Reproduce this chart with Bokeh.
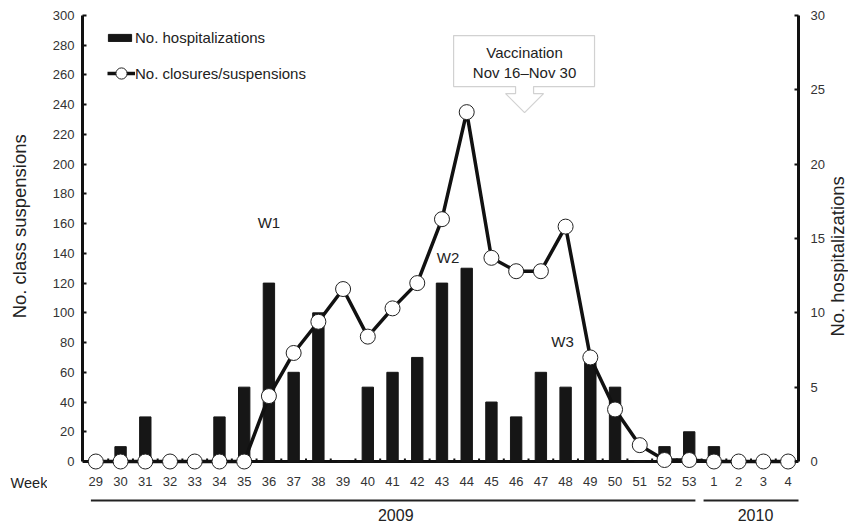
import numpy as np
from bokeh.plotting import figure
from bokeh.layouts import row
from bokeh.models import (Range1d, LinearAxis, FixedTicker, Label, Legend, LegendItem,
                          PolyAnnotation, Span)
from bokeh.embed import file_html
from bokeh.resources import INLINE

# ---------------- data ----------------
weeks = ["29", "30", "31", "32", "33", "34", "35", "36", "37", "38", "39", "40", "41",
         "42", "43", "44", "45", "46", "47", "48", "49", "50", "51", "52", "53",
         "1", "2", "3", "4"]
hospitalizations = [0, 1, 3, 0, 0, 3, 5, 12, 6, 10, 0, 5, 6, 7, 12, 13, 4, 3, 6, 5, 7, 5,
                    0, 1, 2, 1, 0, 0, 0]
closures = [0, 0, 0, 0, 0, 0, 0, 44, 73, 94, 116, 84, 103, 120, 163, 235, 137, 128, 128,
            158, 70, 35, 11, 1, 1, 0, 0, 0, 0]
left_ticks = list(range(0, 301, 20))
right_ticks = list(range(0, 31, 5))
years = ["2009", "2010"]
year_first_week = ["29", "1"]
year_last_week = ["53", "4"]
wave_labels = ["W1", "W2", "W3"]
wave_weeks = ["36", "43", "48"]
wave_heights = [161, 137, 81]

FONT = "Liberation Sans"
TXT = "#222222"
x = np.arange(len(weeks))

# vertical scale: 0..300 over 446 px, frame extended down to the page bottom
PX = 446 / 300.0
Y_MIN = -62 / PX

LEFT_W, RIGHT_W = 47, 20
common = dict(output_backend="svg", toolbar_location=None)

# ---------------- main figure ----------------
p = figure(width=848 - LEFT_W - RIGHT_W, height=523, x_range=Range1d(-0.54, 28.42),
           y_range=Range1d(Y_MIN, 300), x_axis_location=None,
           min_border_left=82 - LEFT_W, min_border_right=30, min_border_top=15,
           min_border_bottom=0, **common)
p.outline_line_color = None
p.grid.visible = False
p.extra_y_ranges = {"hosp": Range1d(Y_MIN / 10.0, 30)}

ly = p.yaxis[0]
ly.ticker = FixedTicker(ticks=left_ticks, minor_ticks=[])
ly.bounds = (0, 300)
ry = LinearAxis(y_range_name="hosp", ticker=FixedTicker(ticks=right_ticks, minor_ticks=[]),
                bounds=(0, 30))
p.add_layout(ry, "right")
for ax, so in ((ly, 8), (ry, 12)):
    ax.axis_line_width = 3
    ax.axis_line_color = "#111111"
    ax.major_tick_in = 4
    ax.major_tick_out = 0
    ax.major_tick_line_width = 2
    ax.major_tick_line_color = "#111111"
    ax.minor_tick_line_color = None
    ax.major_label_standoff = so
    ax.major_label_text_font = FONT
    ax.major_label_text_font_size = "13px"
    ax.major_label_text_color = "#333333"

# baseline (x axis line) and small category separators
p.add_layout(Span(location=0, dimension="width", line_width=3, line_color="#111111",
                  level="underlay"))
sep = x[:-1] + 0.5
p.segment(x0=sep, y0=0, x1=sep, y1=3 / PX, line_width=2, line_color="#111111")

# week labels
p.text(x=x, y=-20 / PX, text=weeks, text_align="center", text_baseline="middle",
       text_font={"value": FONT}, text_font_size="13px", text_color="#333333")

# ---------------- marks ----------------
bars = p.vbar(x=x, top=hospitalizations, width=0.46, y_range_name="hosp",
              fill_color="#161616", line_color="#161616")
line = p.line(x, closures, line_width=3.5, line_color="#111111")
dots = p.scatter(x, closures, size=15, fill_color="white", line_color="#222222",
                 line_width=1)

# ---------------- legends ----------------
leg1 = Legend(items=[LegendItem(label="No. hospitalizations", renderers=[bars])],
              location=(23, 477), glyph_width=29, glyph_height=9, label_standoff=1,
              padding=0, margin=0, border_line_color=None, background_fill_alpha=0,
              label_text_font=FONT, label_text_font_size="15px",
              label_text_color=TXT, label_height=9)
leg2 = Legend(items=[LegendItem(label="No. closures/suspensions", renderers=[line, dots])],
              location=(25, 436), glyph_width=28, glyph_height=28, label_standoff=0,
              padding=0, margin=0, border_line_color=None, background_fill_alpha=0,
              label_text_font=FONT, label_text_font_size="15px",
              label_text_color=TXT, label_height=9)
p.add_layout(leg1)
p.add_layout(leg2)

# ---------------- annotations ----------------
wave_dx = [0, 6, -3]
for lab, wk, h, dx in zip(wave_labels, wave_weeks, wave_heights, wave_dx):
    p.add_layout(Label(x=float(weeks.index(wk)), y=h, x_offset=dx, text=lab,
                       text_align="center", text_baseline="middle",
                       text_font=FONT, text_font_size="15px", text_color=TXT))

# callout box with arrow
cx = 17.34
bx0, bx1, by0, by1 = 14.47, 20.17, 252.2, 286.5
stem, head, hy, tip = 0.364, 0.768, 247.5, 234.7
p.add_layout(PolyAnnotation(
    xs=[bx0, bx0, bx1, bx1, cx + stem, cx + stem, cx + head, cx, cx - head, cx - stem, cx - stem],
    ys=[by0, by1, by1, by0, by0, hy, hy, tip, hy, hy, by0],
    fill_color="white", fill_alpha=1.0, line_color="#666666", line_width=1.2))
p.add_layout(Label(x=cx, y=275.1, text="Vaccination", text_align="center",
                   text_baseline="middle", text_font=FONT, text_font_size="15px",
                   text_color=TXT))
p.add_layout(Label(x=cx, y=261.6, text="Nov 16\u2013Nov 30", text_align="center",
                   text_baseline="middle", text_font=FONT, text_font_size="15px",
                   text_color=TXT))

# year brackets below the week labels
yr_x0 = [weeks.index(w) - 0.2 for w in year_first_week]
yr_x0[1] = weeks.index(year_first_week[1]) - 0.42
yr_x1 = [weeks.index(w) + 0.25 for w in year_last_week]
yr_x1[1] = weeks.index(year_last_week[1]) + 0.6
yr_y = [-39 / PX] * len(years)
p.segment(x0=yr_x0, y0=yr_y, x1=yr_x1, y1=yr_y, line_width=2, line_color="#222222")
yr_tx = [12.13, 26.68]
p.text(x=yr_tx, y=[-53 / PX] * len(years), text=years, text_align="center",
       text_baseline="middle", text_font={"value": FONT}, text_font_size="16px",
       text_color=TXT)

# ---------------- side strips for the outer titles ----------------
left = figure(width=LEFT_W, height=523, x_range=Range1d(0, LEFT_W), y_range=Range1d(0, 523),
              x_axis_location=None, y_axis_location=None, min_border=0, **common)
left.outline_line_color = None
left.grid.visible = False
left.add_layout(Label(x=18.5, y=523 - 217, text="No. class suspensions", angle=np.pi / 2,
                      text_align="center", text_baseline="middle", text_font=FONT,
                      text_font_size="18.5px", text_color=TXT))
left.add_layout(Label(x=28.5, y=523 - 481, text="Week", text_align="center",
                      text_baseline="middle", text_font=FONT, text_font_size="14.5px",
                      text_color=TXT))

right = figure(width=RIGHT_W, height=523, x_range=Range1d(0, RIGHT_W), y_range=Range1d(0, 523),
               x_axis_location=None, y_axis_location=None, min_border=0, **common)
right.outline_line_color = None
right.grid.visible = False
right.add_layout(Label(x=9, y=523 - 248, text="No. hospitalizations", angle=np.pi / 2,
                       text_align="center", text_baseline="middle", text_font=FONT,
                       text_font_size="18.5px", text_color=TXT))

layout = row(left, p, right)
open("out.html", "w").write(file_html(layout, INLINE))
